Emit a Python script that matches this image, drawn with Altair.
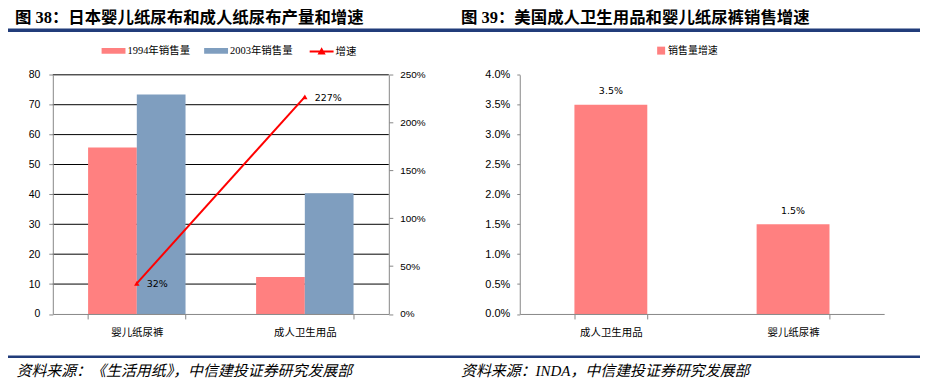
import altair as alt
import pandas as pd

# ---------------- data ----------------
left_categories = ["婴儿纸尿裤", "成人卫生用品"]
left_series = ["1994年销售量", "2003年销售量"]
sales_1994 = [55.7, 12.4]
sales_2003 = [73.4, 40.4]
growth_name = "增速"
growth_rate = [0.32, 2.27]
left_value_ticks = [0, 10, 20, 30, 40, 50, 60, 70, 80]
left_pct_ticks = [0, 0.5, 1.0, 1.5, 2.0, 2.5]

right_categories = ["成人卫生用品", "婴儿纸尿裤"]
right_series = "销售量增速"
right_growth = [0.035, 0.015]
right_pct_ticks = [0, 0.005, 0.01, 0.015, 0.02, 0.025, 0.03, 0.035, 0.04]

title_left = "图 38：日本婴儿纸尿布和成人纸尿布产量和增速"
title_right = "图 39：美国成人卫生用品和婴儿纸尿裤销售增速"
source_left = "资料来源：《生活用纸》，中信建投证券研究发展部"
source_right = "资料来源：INDA，中信建投证券研究发展部"

# ---------------- tables ----------------
bars_left_df = pd.DataFrame({
    "category": left_categories * 2,
    "series": [left_series[0]] * len(left_categories) + [left_series[1]] * len(left_categories),
    "value": sales_1994 + sales_2003,
})
growth_df = pd.DataFrame({"category": left_categories, "series": [growth_name] * len(left_categories), "rate": growth_rate})
grid_df = pd.DataFrame({"tick": left_value_ticks[1:]})
right_df = pd.DataFrame({"category": right_categories, "series": [right_series] * len(right_categories), "rate": right_growth})

# ---------------- layout / style ----------------
W, H = 916, 370
L_X0, L_X1 = 45, 382.5
R_X0, R_X1 = 514, 880
Y0, Y1 = 306.5, 66.3

PINK = "#FF8080"
BLUE = "#7F9EBF"
RED = "#FF0000"
NAVY = "#213C7A"
AXC = "#868686"
CJK = "Noto Sans CJK SC"
SERIF_CJK = "Liberation Serif, Noto Sans CJK SC"
NUM = "Liberation Sans"
LBL = "DejaVu Sans"

xL = alt.Scale(domain=left_categories, range=[L_X0, L_X1], paddingInner=0.42, paddingOuter=0.21)
yL = alt.Scale(domain=[0, 80], range=[Y0, Y1], nice=False)
yP = alt.Scale(domain=[0, 2.5], range=[Y0, Y1], nice=False)
xR = alt.Scale(domain=right_categories, range=[R_X0, R_X1], paddingInner=0.6, paddingOuter=0.3)
yR = alt.Scale(domain=[0, 0.04], range=[Y0, Y1], nice=False)

def x_axis():
    return alt.Axis(orient="bottom", offset=Y0 - H, tickBand="extent", tickSize=5, labelPadding=9,
                    labelFont=CJK, labelFontSize=10.5, labelColor="black", labelAngle=0,
                    domainColor=AXC, tickColor=AXC, title=None, grid=False, zindex=1)

grid = alt.Chart(grid_df).mark_rule(color="black", strokeWidth=1).encode(
    y=alt.Y("tick:Q", scale=yL, axis=None),
    x=alt.value(L_X0), x2=alt.value(L_X1),
)

bars_l = alt.Chart(bars_left_df).mark_bar().encode(
    x=alt.X("category:N", scale=xL, axis=x_axis(), sort=left_categories),
    xOffset=alt.XOffset("series:N", scale=alt.Scale(domain=left_series)),
    y=alt.Y("value:Q", scale=yL, axis=alt.Axis(
        orient="left", offset=-L_X0, values=left_value_ticks, format="d", title=None, grid=False,
        domainColor=AXC, tickColor=AXC, tickSize=4, labelPadding=9, labelFont=NUM,
        labelFontSize=10.5, labelColor="black", zindex=1)),
    color=alt.Color("series:N", scale=alt.Scale(domain=left_series, range=[PINK, BLUE]),
                    legend=alt.Legend(orient="none", legendX=94, legendY=30, direction="horizontal",
                                      title=None, symbolType="M-1,-0.24H1V0.24H-1Z", symbolSize=576,
                                      symbolStrokeWidth=0, labelOffset=2, columnPadding=14,
                                      labelFont=SERIF_CJK, labelFontSize=10.5, labelColor="black", padding=0)),
)

line_l = alt.Chart(growth_df).mark_line(
    strokeWidth=2, point=alt.OverlayMarkDef(shape="triangle-up", size=30, filled=True)
).encode(
    x=alt.X("category:N", scale=xL, axis=None),
    y=alt.Y("rate:Q", scale=yP, axis=alt.Axis(
        orient="right", offset=L_X1 - W, values=left_pct_ticks, format=".0%", title=None, grid=False,
        domainColor=AXC, tickColor=AXC, tickSize=4, labelPadding=7, labelFont=NUM,
        labelFontSize=10, labelColor="black", zindex=1)),
    color=alt.Color("series:N", scale=alt.Scale(domain=[growth_name], range=[RED]),
                    legend=alt.Legend(orient="none", legendX=302, legendY=30, direction="horizontal",
                                      title=None, symbolType="M-1,0H1M-0.2,0.16L0,-0.2L0.2,0.16Z",
                                      symbolSize=576, symbolStrokeWidth=2, labelOffset=1,
                                      labelFont=SERIF_CJK, labelFontSize=10.5, labelColor="black", padding=0)),
)

lbl_l = alt.Chart(growth_df).mark_text(align="left", baseline="middle", dx=10, dy=1, font=LBL,
                                        fontSize=9.5, color="black").encode(
    x=alt.X("category:N", scale=xL, axis=None),
    y=alt.Y("rate:Q", scale=yP, axis=None),
    text=alt.Text("rate:Q", format=".0%"),
)

bars_r = alt.Chart(right_df).mark_bar().encode(
    x=alt.X("category:N", scale=xR, axis=x_axis(), sort=right_categories),
    y=alt.Y("rate:Q", scale=yR, axis=alt.Axis(
        orient="left", offset=-R_X0, values=right_pct_ticks, format=".1%", title=None, grid=False,
        domainColor=AXC, tickColor=AXC, tickSize=3, labelPadding=7, labelFont=NUM,
        labelFontSize=11, labelColor="black", zindex=1)),
    color=alt.Color("series:N", scale=alt.Scale(domain=[right_series], range=[PINK]),
                    legend=alt.Legend(orient="none", legendX=651, legendY=37, direction="horizontal",
                                      title=None, symbolType="square", symbolSize=64, symbolStrokeWidth=0,
                                      labelOffset=2, labelFont=CJK, labelFontSize=10,
                                      labelColor="black", padding=0)),
)

lbl_r = alt.Chart(right_df).mark_text(align="center", baseline="middle", dy=-13.5, font=LBL,
                                       fontSize=9.5, color="black").encode(
    x=alt.X("category:N", scale=xR, axis=None),
    y=alt.Y("rate:Q", scale=yR, axis=None),
    text=alt.Text("rate:Q", format=".1%"),
)

def text_layer(txt, x, y, size, weight="normal", style="normal"):
    return alt.Chart(pd.DataFrame({"t": [txt]})).mark_text(
        align="left", baseline="middle", font=SERIF_CJK, fontSize=size, fontWeight=weight,
        fontStyle=style, color="black").encode(x=alt.value(x), y=alt.value(y), text="t:N")

def hrule(y, sw):
    return alt.Chart(pd.DataFrame({"r": [0]})).mark_rule(color=NAVY, strokeWidth=sw).encode(
        x=alt.value(0), x2=alt.value(W), y=alt.value(y))

t_l = text_layer(title_left, 7, 9.5, 16.5, weight="bold")
t_r = text_layer(title_right, 455, 9.5, 16.5, weight="bold")
rule_top = hrule(21.5, 3.5)
rule_bot = hrule(349.5, 2.5)
s_l = text_layer(source_left, 8.5, 363.5, 15, style="italic")
s_r = text_layer(source_right, 455, 363.5, 15, style="italic")

chart = alt.layer(
    grid, bars_l, line_l, lbl_l, bars_r, lbl_r, t_l, t_r, rule_top, rule_bot, s_l, s_r
).resolve_scale(
    x="independent", y="independent", color="independent"
).properties(
    width=W, height=H, padding=0, autosize=alt.AutoSizeParams(type="none"), background="white"
).configure_view(stroke=None)

chart.save("out.html", embed_options={"renderer": "svg", "actions": False})
